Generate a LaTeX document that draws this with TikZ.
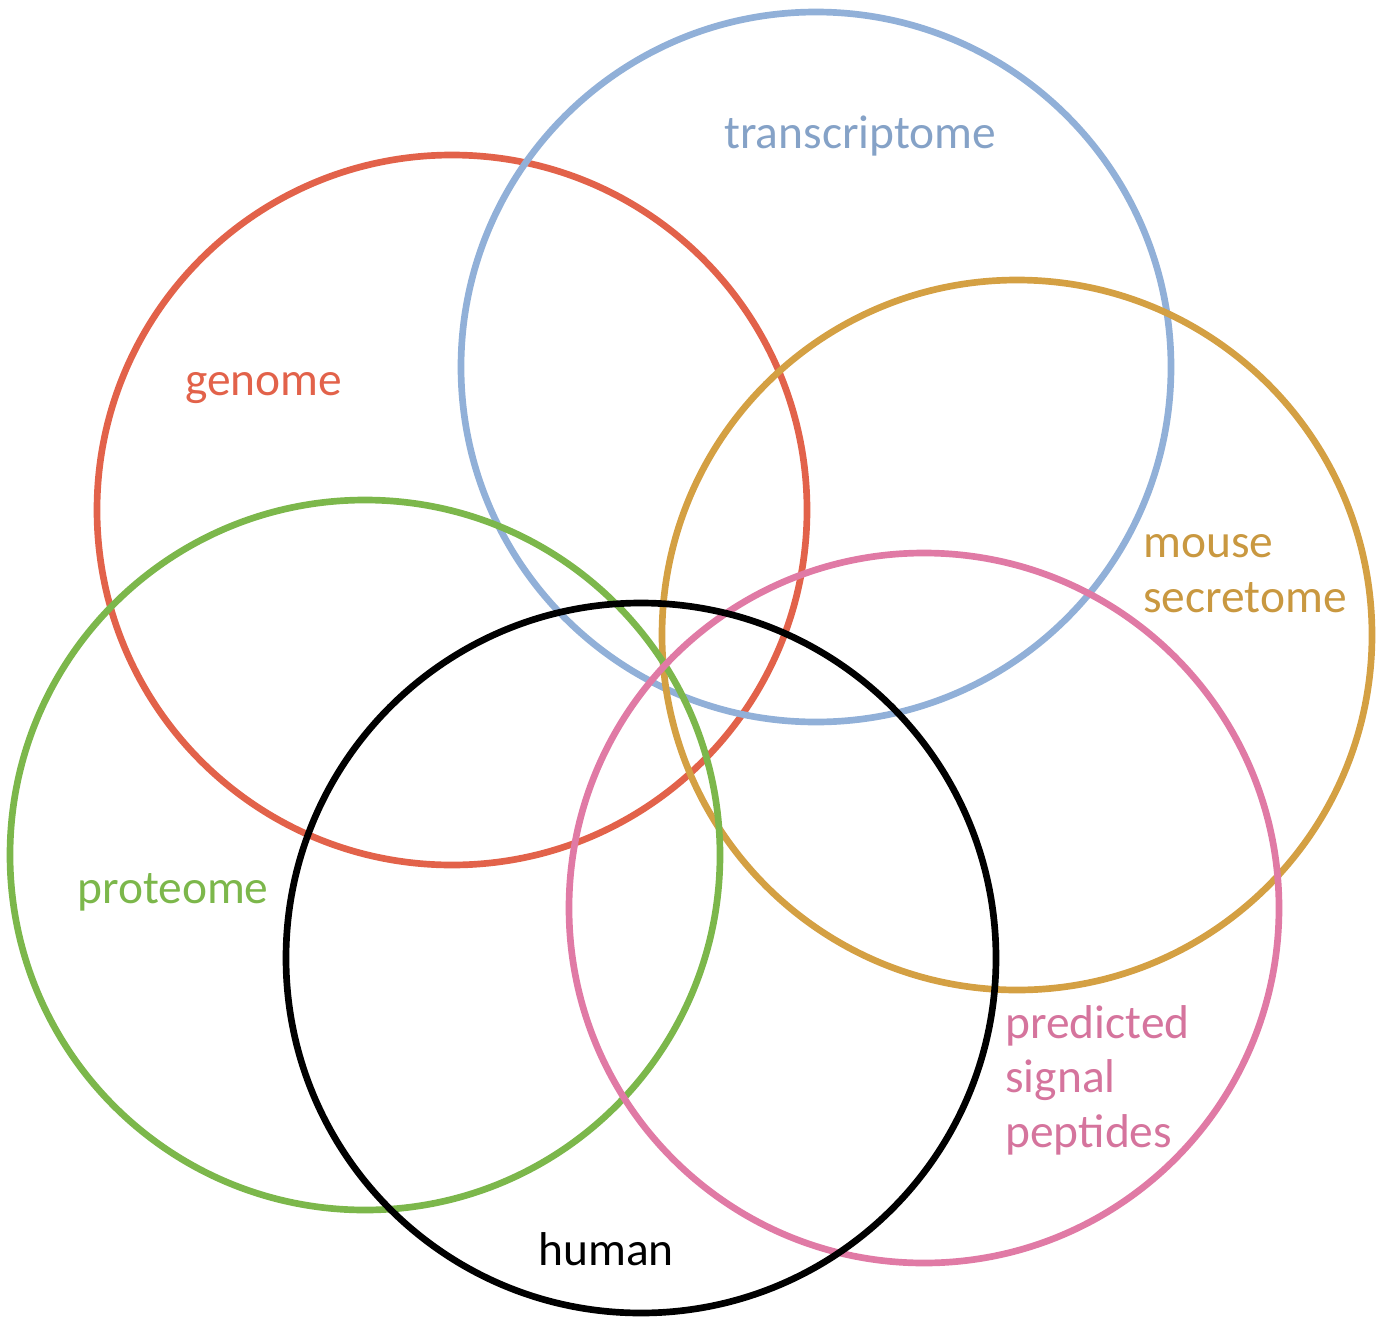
\documentclass[tikz,border=0pt]{standalone}
\usepackage{fontspec}
\setmainfont{Carlito}
\usepackage{tikz}

\definecolor{genomered}{RGB}{226,98,74}
\definecolor{transblue}{RGB}{145,176,216}
\definecolor{mousegold}{RGB}{212,160,67}
\definecolor{protgreen}{RGB}{124,183,75}
\definecolor{signalpink}{RGB}{224,122,165}

\begin{document}
\begin{tikzpicture}[x=0.02cm, y=-0.02cm, ring/.style={line width=3.8pt},
	lbl/.style={anchor=base west, inner sep=0pt, font=\fontsize{27}{31}\selectfont, align=left}]
	\useasboundingbox (0,0) rectangle (1387,1322);
	% sets
	\foreach \cx/\cy/\col in {452/510/genomered, 816/367/transblue, 1017/635/mousegold,
		365/855/protgreen, 924/908/signalpink, 641/958/black} {
		\draw[ring, \col] (\cx, \cy) circle[radius=355];
	}
	% labels (multi-line ones sit on their last baseline)
	\node[lbl, genomered] (genome) at (185, 395) {genome};
	\node[lbl, transblue!92!black] (transcriptome) at (724, 148) {transcriptome};
	\node[lbl, mousegold!95!black] (mouse) at (1143, 612) {mouse\\secretome};
	\node[lbl, protgreen] (proteome) at (77, 903) {proteome};
	\node[lbl, signalpink!95!black] (signal) at (1005, 1147) {predicted\\signal\\peptides};
	\node[lbl, black] (human) at (538, 1265) {human};
\end{tikzpicture}
\end{document}
